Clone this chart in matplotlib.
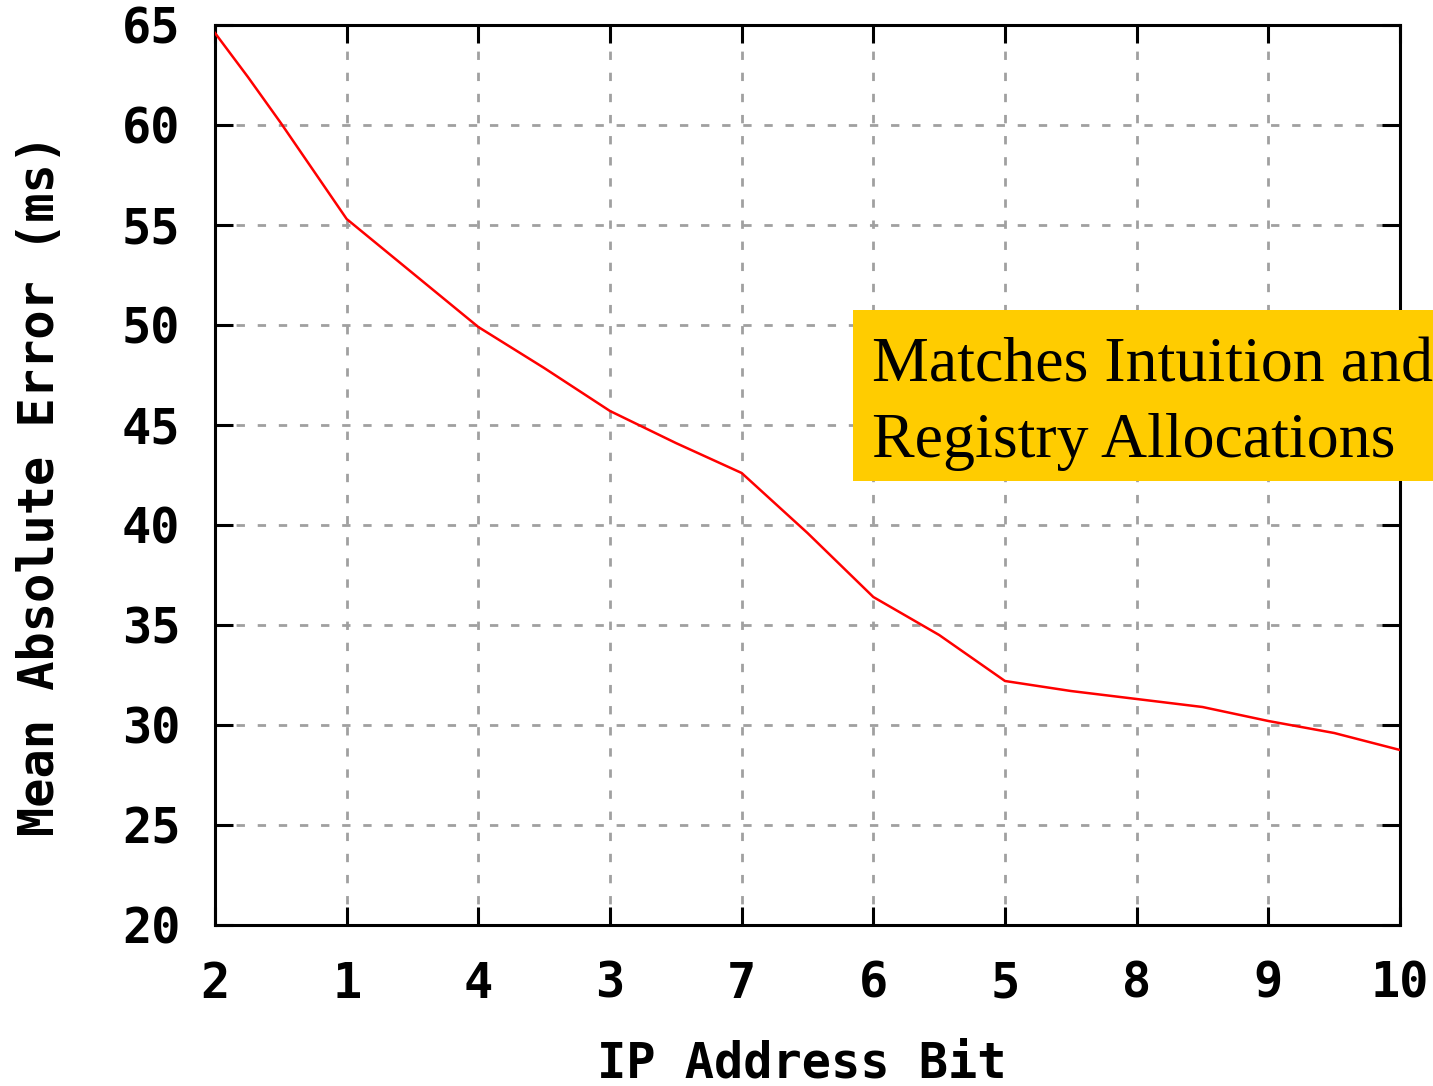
import matplotlib
matplotlib.use("Agg")
import matplotlib.pyplot as plt
from matplotlib.patches import Rectangle

# bits in the order they were added
bit_labels = ["2", "1", "4", "3", "7", "6", "5", "8", "9", "10"]
# position along the bit order and mean absolute error (ms)
pos = [0, 0.25, 0.5, 0.75, 1, 1.5, 2, 2.5, 3, 3.5, 4, 4.5, 5, 5.5, 6, 6.5, 7, 7.5, 8, 8.5, 9]
mae = [64.6, 62.4, 60.1, 57.7, 55.3, 52.6, 49.9, 47.85, 45.7, 44.1, 42.6, 39.6,
       36.4, 34.5, 32.2, 31.7, 31.3, 30.9, 30.2, 29.6, 28.75]
y_ticks = [20, 25, 30, 35, 40, 45, 50, 55, 60, 65]

W, H = 1433, 1086
fig = plt.figure(figsize=(W / 100, H / 100), dpi=100)
ax = fig.add_axes([215 / W, 1 - 925 / H, (1400 - 215) / W, (925 - 25) / H])

mono = dict(family="DejaVu Sans Mono", weight="bold", size=35)

ax.plot(pos, mae, color="#ff0000", lw=1.8, zorder=3)

ax.set_xlim(0, 9)
ax.set_ylim(20, 65)
ax.set_xticks(range(len(bit_labels)))
ax.set_xticklabels(bit_labels, **mono)
ax.set_yticks(y_ticks)
ax.set_yticklabels([str(v) for v in y_ticks], **mono)

ax.grid(True, color="#a0a0a0", lw=2, linestyle=(0, (3.0, 4.6)), zorder=1)
ax.tick_params(direction="in", length=13, width=2.2, top=True, right=True,
               pad=25)
ax.tick_params(axis="y", pad=25)
for s in ax.spines.values():
    s.set_linewidth(2.2)

# axis titles
fig.text(802 / W, 1 - 1064 / H, "IP Address Bit", ha="center", va="center", **mono)
fig.text(40 / W, 1 - 485 / H, "Mean Absolute Error (ms)", ha="center", va="center",
         rotation=90, **mono)

# highlighted note on the right
fig.patches.append(Rectangle((853 / W, 1 - 481 / H), (W - 853) / W, (481 - 310) / H,
                             transform=fig.transFigure, facecolor="#ffcc00",
                             edgecolor="none", zorder=5))
serif = dict(family="Liberation Serif", size=46, color="black", zorder=6)
fig.text(872 / W, 1 - 381 / H, "Matches Intuition and", va="baseline", **serif)
fig.text(872 / W, 1 - 457 / H, "Registry Allocations", va="baseline", **serif)

fig.savefig("out.png", dpi=100)
